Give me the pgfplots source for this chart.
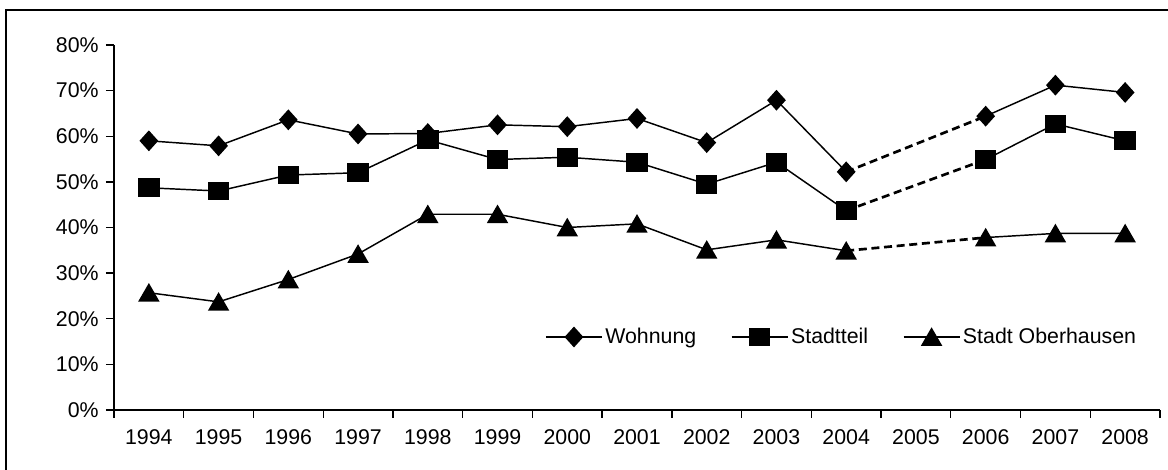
\documentclass[border=0pt]{standalone}
\usepackage{pgfplots}
\pgfplotsset{compat=1.18}
\usepackage{fontspec}
\setmainfont{Liberation Sans}
\begin{document}
\begin{tikzpicture}
\useasboundingbox (0,0) rectangle (876pt,352.5pt);
\draw[line width=1.5pt] (4.5pt,-3pt) rectangle (880pt,345pt);
\begin{axis}[
  scale only axis,
  width=784.5pt, height=273.75pt,
  at={(85.5pt,45pt)}, anchor=south west,
  xmin=-0.5, xmax=14.5, ymin=0, ymax=80,
  axis x line=bottom, axis y line=left,
  axis line style={-, line width=1pt},
  xtick={0,...,14},
  xticklabels={1994,1995,1996,1997,1998,1999,2000,2001,2002,2003,2004,2005,2006,2007,2008},
  major x tick style={draw=none},
  minor xtick={-0.5,0.5,...,14.5},
  tick align=outside,
  major tick length=6pt, minor tick length=6pt,
  ytick={0,10,...,80},
  yticklabel={\pgfmathprintnumber{\tick}\%},
  tick style={black, line width=1pt},
  /pgf/number format/assume math mode=true,
  every tick label/.append style={font=\fontsize{16}{19}\selectfont},
  xticklabel style={yshift=-5pt},
  yticklabel style={xshift=-2pt},
  unbounded coords=jump,
  legend style={at={(0.98,0.2)}, anchor=east, draw=none, fill=none,
    font=\fontsize{16}{19}\selectfont, inner sep=0pt},
  legend columns=-1,
  /tikz/every even column/.append style={column sep=24pt},
  legend image code/.code={\draw[mark repeat=2,mark phase=2,#1] plot coordinates {(0pt,0pt) (21pt,0pt) (42pt,0pt)};},
]
% dashed bridges
\addplot[black, line width=2pt, dash pattern=on 6pt off 3.5pt, forget plot] coordinates {(10,52.2) (12,64.4)};
\addplot[black, line width=2pt, dash pattern=on 6pt off 3.5pt, forget plot] coordinates {(10,43.7) (12,54.9)};
\addplot[black, line width=2pt, dash pattern=on 6pt off 3.5pt, forget plot] coordinates {(10,34.9) (12,37.8)};
% Wohnung
\addplot[black, line width=1.1pt, mark=diamond*, mark size=7pt, mark options={solid, xscale=1.2}] coordinates {
(0,59.0) (1,57.9) (2,63.6) (3,60.5) (4,60.6) (5,62.5) (6,62.1) (7,63.9) (8,58.6) (9,67.9) (10,52.2) (11,nan) (12,64.4) (13,71.2) (14,69.6)};
\addlegendentry{Wohnung}
% Stadtteil
\addplot[black, line width=1.1pt, mark=square*, mark size=6.5pt, mark options={solid, xscale=1.15}] coordinates {
(0,48.7) (1,48.0) (2,51.5) (3,52.0) (4,59.2) (5,54.9) (6,55.4) (7,54.3) (8,49.5) (9,54.3) (10,43.7) (11,nan) (12,54.9) (13,62.7) (14,59.0)};
\addlegendentry{Stadtteil}
% Stadt Oberhausen
\addplot[black, line width=1.1pt, mark=triangle*, mark size=8.2pt, mark options={solid, yshift=-2pt}] coordinates {
(0,25.7) (1,23.7) (2,28.6) (3,34.2) (4,42.9) (5,42.9) (6,40.0) (7,40.8) (8,35.1) (9,37.3) (10,34.9) (11,nan) (12,37.8) (13,38.7) (14,38.7)};
\addlegendentry{Stadt Oberhausen}
\end{axis}
\end{tikzpicture}
\end{document}
